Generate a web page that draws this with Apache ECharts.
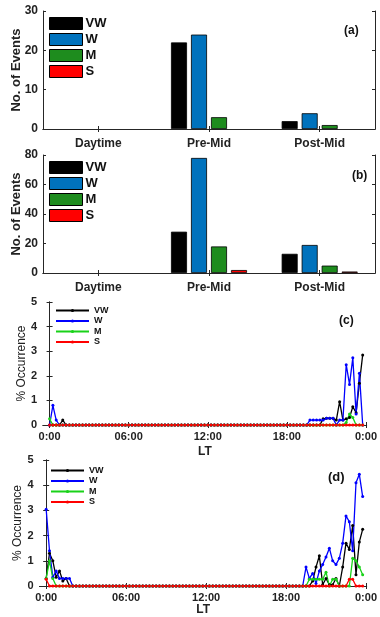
<!DOCTYPE html>
<html>
<head>
<meta charset="utf-8">
<script src="https://cdn.jsdelivr.net/npm/echarts@6.0.0/dist/echarts.min.js"></script>
<style>
html,body{margin:0;padding:0;background:#fff;}
#chart{width:380px;height:617px;}
</style>
</head>
<body>
<div id="chart"></div>
<script>
// categories
var periods = ['Daytime', 'Pre-Mid', 'Post-Mid'];
var classes = ['VW', 'W', 'M', 'S'];
var ltTicks = [0, 6, 12, 18, 24];
var ltLabels = ['0:00', '06:00', '12:00', '18:00', '0:00'];

// (a) number of events
var aVW = [0, 22, 2];
var aW = [0, 24, 4];
var aM = [0, 3, 1];
var aS = [0, 0, 0];

// (b) number of events
var bVW = [0, 28, 13];
var bW = [0, 78, 19];
var bM = [0, 18, 5];
var bS = [0, 2, 1];

// (c) % occurrence, 15 min bins from 0:00
var cVW = [
	0,0,0,0,0.2,0,0,0,0,0,0,0,
	0,0,0,0,0,0,0,0,0,0,0,0,
	0,0,0,0,0,0,0,0,0,0,0,0,
	0,0,0,0,0,0,0,0,0,0,0,0,
	0,0,0,0,0,0,0,0,0,0,0,0,
	0,0,0,0,0,0,0,0,0,0,0,0,
	0,0,0,0,0,0,0,0,0,0,0,0.25,
	0.27,0.27,0.27,0.2,0.95,0.2,0.25,0.3,0.74,0.5,1.7,2.85
];
var cW = [
	0,0.8,0.2,0,0,0,0,0,0,0,0,0,
	0,0,0,0,0,0,0,0,0,0,0,0,
	0,0,0,0,0,0,0,0,0,0,0,0,
	0,0,0,0,0,0,0,0,0,0,0,0,
	0,0,0,0,0,0,0,0,0,0,0,0,
	0,0,0,0,0,0,0,0,0,0,0,0,
	0,0,0,0,0,0,0,0.2,0.2,0.2,0.2,0.2,
	0.27,0.27,0.27,0,0.2,0.2,2.45,1.65,2.73,0.45,2.1,0
];
var cM = [
	0.25,0,0,0,0,0,0,0,0,0,0,0,
	0,0,0,0,0,0,0,0,0,0,0,0,
	0,0,0,0,0,0,0,0,0,0,0,0,
	0,0,0,0,0,0,0,0,0,0,0,0,
	0,0,0,0,0,0,0,0,0,0,0,0,
	0,0,0,0,0,0,0,0,0,0,0,0,
	0,0,0,0,0,0,0,0,0,0,0,0,
	0,0,0,0,0,0,0.1,0.45,0.3,0,0,0
];
var cS = [
	0,0,0,0,0,0,0,0,0,0,0,0,
	0,0,0,0,0,0,0,0,0,0,0,0,
	0,0,0,0,0,0,0,0,0,0,0,0,
	0,0,0,0,0,0,0,0,0,0,0,0,
	0,0,0,0,0,0,0,0,0,0,0,0,
	0,0,0,0,0,0,0,0,0,0,0,0,
	0,0,0,0,0,0,0,0,0,0,0,0,
	0,0,0,0,0,0,0,0,0,0,0,0
];

// (d) % occurrence, 15 min bins from 0:00
var dVW = [
	0.3,1.3,1.0,0.35,0.6,0.2,0.3,0,0,0,0,0,
	0,0,0,0,0,0,0,0,0,0,0,0,
	0,0,0,0,0,0,0,0,0,0,0,0,
	0,0,0,0,0,0,0,0,0,0,0,0,
	0,0,0,0,0,0,0,0,0,0,0,0,
	0,0,0,0,0,0,0,0,0,0,0,0,
	0,0,0,0,0,0,0,0,0.2,0.75,1.2,0.05,
	0.3,0.05,0.05,0.3,0,0.75,1.7,1.45,2.4,0.45,1.75,2.25
];
var dW = [
	3.05,1.4,0.35,0.6,0.3,0.3,0.3,0.3,0,0,0,0,
	0,0,0,0,0,0,0,0,0,0,0,0,
	0,0,0,0,0,0,0,0,0,0,0,0,
	0,0,0,0,0,0,0,0,0,0,0,0,
	0,0,0,0,0,0,0,0,0,0,0,0,
	0,0,0,0,0,0,0,0,0,0,0,0,
	0,0,0,0,0,0,0.75,0.3,0.5,0.1,0.6,0.85,
	1.15,1.5,1.0,0.85,1.1,1.7,2.78,2.55,1.4,4.1,4.43,3.55
];
var dM = [
	0.3,1.0,0.3,0,0,0,0,0,0,0,0,0,
	0,0,0,0,0,0,0,0,0,0,0,0,
	0,0,0,0,0,0,0,0,0,0,0,0,
	0,0,0,0,0,0,0,0,0,0,0,0,
	0,0,0,0,0,0,0,0,0,0,0,0,
	0,0,0,0,0,0,0,0,0,0,0,0,
	0,0,0,0,0,0,0,0.27,0.27,0.27,0.27,0.27,
	0.55,0,0.27,0.27,0,0,0,0,1.1,1.0,0.75,0.45
];
var dS = [
	0.27,0,0,0,0,0,0,0,0,0,0,0,
	0,0,0,0,0,0,0,0,0,0,0,0,
	0,0,0,0,0,0,0,0,0,0,0,0,
	0,0,0,0,0,0,0,0,0,0,0,0,
	0,0,0,0,0,0,0,0,0,0,0,0,
	0,0,0,0,0,0,0,0,0,0,0,0,
	0,0,0,0,0,0,0,0,0,0,0,0,
	0,0,0,0,0,0,0,0.27,0.27,0,0,0
];

var barColors = ['#000000', '#0072BD', '#1E8C1E', '#FF0000'];
var lineColors = ['#000000', '#0000FF', '#19D219', '#FF0000'];
var FONT = 'Liberation Sans';
var AX = '#262626';

// time bins (hours)
var lt = [];
for (var i = 0; i < cVW.length; ++i) {
	lt[i] = i / 4;
}

function pairs(vals) {
	var arr = [];
	for (var j = 0; j < vals.length; ++j) {
		arr[j] = [lt[j], vals[j]];
	}
	return arr;
}
// zero-height bars carry no outline, like the original
function barItems(vals) {
	var arr = [];
	for (var j = 0; j < vals.length; ++j) {
		arr[j] = vals[j] === 0 ? {value: 0, itemStyle: {borderWidth: 0, opacity: 0}} : vals[j];
	}
	return arr;
}

var lineStyleAx = {show: true, lineStyle: {color: AX, width: 1}};
var tickIn = {show: true, inside: true, length: 3, lineStyle: {color: AX}};

function catAxes(grid) {
	return [
		{type: 'category', gridIndex: grid, data: periods, position: 'bottom',
			axisLine: lineStyleAx, axisTick: {show: true, inside: true, length: 3, alignWithLabel: true, lineStyle: {color: AX}},
			axisLabel: {fontFamily: FONT, fontWeight: 'bold', fontSize: 12, color: '#222', margin: 9}},
		{type: 'category', gridIndex: grid, data: periods, position: 'top',
			axisLine: lineStyleAx, axisTick: {show: true, inside: true, length: 3, alignWithLabel: true, lineStyle: {color: AX}},
			axisLabel: {show: false}}
	];
}
function cntAxes(grid, max, step) {
	return [
		{type: 'value', gridIndex: grid, min: 0, max: max, interval: step, position: 'left',
			name: 'No. of Events', nameLocation: 'middle', nameGap: 20, nameMoveOverlap: false,
			nameTextStyle: {fontFamily: FONT, fontWeight: 'bold', fontSize: 13, color: '#222'},
			axisLine: lineStyleAx, axisTick: tickIn, splitLine: {show: false},
			axisLabel: {fontFamily: FONT, fontWeight: 'bold', fontSize: 12, color: '#222', margin: 5}},
		{type: 'value', gridIndex: grid, min: 0, max: max, interval: step, position: 'right',
			axisLine: lineStyleAx, axisTick: tickIn, splitLine: {show: false}, axisLabel: {show: false}}
	];
}
function ltAxes(grid, gap) {
	return [
		{type: 'value', gridIndex: grid, min: -0.5, max: 24.05, position: 'bottom',
			name: 'LT', nameLocation: 'middle', nameGap: gap, nameMoveOverlap: false,
			nameTextStyle: {fontFamily: FONT, fontWeight: 'bold', fontSize: 12, color: '#222'},
			axisLine: lineStyleAx, splitLine: {show: false},
			axisTick: {show: true, inside: true, length: 3, customValues: ltTicks, lineStyle: {color: AX}},
			axisLabel: {customValues: ltTicks, fontFamily: FONT, fontWeight: 'bold', fontSize: 11, color: '#222', margin: 6,
				formatter: function (v) { return ltLabels[ltTicks.indexOf(v)]; }}},
		{type: 'value', gridIndex: grid, min: -0.5, max: 24.05, position: 'top',
			axisLine: lineStyleAx, splitLine: {show: false},
			axisTick: {show: true, inside: true, length: 3, customValues: ltTicks, lineStyle: {color: AX}},
			axisLabel: {show: false}}
	];
}
function occAxes(grid, gap) {
	return [
		{type: 'value', gridIndex: grid, min: 0, max: 5, interval: 1, position: 'left',
			name: '% Occurrence', nameLocation: 'middle', nameGap: gap, nameMoveOverlap: false,
			nameTextStyle: {fontFamily: FONT, fontSize: 12, color: '#222'},
			axisLine: lineStyleAx, axisTick: tickIn, splitLine: {show: false},
			axisLabel: {fontFamily: FONT, fontWeight: 'bold', fontSize: 11, color: '#222', margin: 6}},
		{type: 'value', gridIndex: grid, min: 0, max: 5, interval: 1, position: 'right',
			axisLine: lineStyleAx, axisTick: tickIn, splitLine: {show: false}, axisLabel: {show: false}}
	];
}

var series = [];
function addBars(axis, sets) {
	for (var k = 0; k < classes.length; ++k) {
		series.push({
			type: 'bar', name: classes[k], xAxisIndex: axis, yAxisIndex: axis,
			data: barItems(sets[k]), barWidth: 16, barGap: '25%',
			itemStyle: {color: barColors[k], borderColor: '#000', borderWidth: 0.8}
		});
	}
}
function addLines(axis, sets) {
	for (var k = 0; k < classes.length; ++k) {
		series.push({
			type: 'line', name: classes[k] + ' ', xAxisIndex: axis, yAxisIndex: axis,
			data: pairs(sets[k]), symbol: 'circle', symbolSize: 3,
			lineStyle: {color: lineColors[k], width: 1.3},
			itemStyle: {color: lineColors[k]}
		});
	}
}
addBars(0, [aVW, aW, aM, aS]);
addBars(2, [bVW, bW, bM, bS]);
addLines(4, [cVW, cW, cM, cS]);
addLines(6, [dVW, dW, dM, dS]);

function barLegend(top) {
	return {left: 49, top: top, orient: 'vertical', padding: 0, selectedMode: false,
		itemWidth: 33, itemHeight: 12, itemGap: 3, icon: 'rect', data: classes,
		itemStyle: {borderColor: '#000', borderWidth: 1},
		textStyle: {fontFamily: FONT, fontWeight: 'bold', fontSize: 13, color: '#111', padding: [0, 0, 0, -2]}};
}
function lineLegend(left, top) {
	return {left: left, top: top, orient: 'vertical', padding: 0, selectedMode: false,
		itemWidth: 33, itemHeight: 4, itemGap: 1.5,
		data: [classes[0] + ' ', classes[1] + ' ', classes[2] + ' ', classes[3] + ' '],
		formatter: function (n) { return n.trim(); },
		textStyle: {fontFamily: FONT, fontWeight: 'bold', fontSize: 9, color: '#111'}};
}
function panelTag(text, left, top, size) {
	return {text: text, left: left, top: top, padding: 0,
		textStyle: {fontFamily: FONT, fontWeight: 'bold', fontSize: size, color: '#111'}};
}

var option = {
	animation: false,
	backgroundColor: '#fff',
	title: [
		panelTag('(a)', 344, 25, 12),
		panelTag('(b)', 352, 170, 12),
		panelTag('(c)', 339, 315, 12),
		panelTag('(d)', 328, 471, 13)
	],
	legend: [barLegend(17), barLegend(161), lineLegend(55, 306), lineLegend(50, 466)],
	grid: [
		{left: 43, right: 5, top: 11, height: 118},
		{left: 43, right: 5, top: 155, height: 118},
		{left: 43, right: 8, top: 302, height: 123},
		{left: 39.5, right: 9.5, top: 460, height: 127}
	],
	xAxis: [].concat(catAxes(0), catAxes(1), ltAxes(2, 21), ltAxes(3, 18)),
	yAxis: [].concat(cntAxes(0, 30, 10), cntAxes(1, 80, 20), occAxes(2, 15), occAxes(3, 16)),
	series: series
};

var myChart = echarts.init(document.getElementById('chart'));
myChart.setOption(option);
</script>
</body>
</html>
